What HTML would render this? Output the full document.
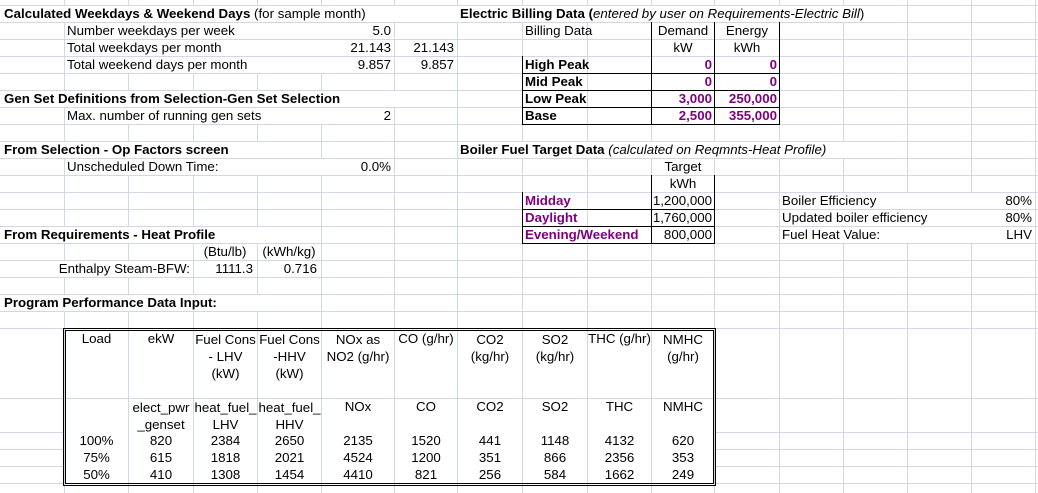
<!DOCTYPE html>
<html><head><meta charset="utf-8">
<style>
html,body{margin:0;padding:0;background:#fff;}
#w{position:relative;width:1038px;height:493px;overflow:hidden;font-family:"Liberation Sans",Arial,sans-serif;font-size:13.3px;color:#000;}
svg{position:absolute;left:0;top:0;}
.t{position:absolute;height:16px;line-height:16px;white-space:nowrap;}
.b{font-weight:bold;}
.p{color:#800080;font-weight:bold;}
.r{text-align:right;}
.c{text-align:center;}
.bg{background:#fff;}
</style></head><body><div id="w">
<svg width="1038" height="493">
<g fill="#d0d7e5">
<rect x="64" y="0" width="1" height="493"/>
<rect x="128" y="0" width="1" height="493"/>
<rect x="193" y="0" width="1" height="493"/>
<rect x="257" y="0" width="1" height="493"/>
<rect x="321" y="0" width="1" height="493"/>
<rect x="394" y="0" width="1" height="493"/>
<rect x="457" y="0" width="1" height="493"/>
<rect x="522" y="0" width="1" height="493"/>
<rect x="587" y="0" width="1" height="493"/>
<rect x="651" y="0" width="1" height="493"/>
<rect x="714" y="0" width="1" height="493"/>
<rect x="779" y="0" width="1" height="493"/>
<rect x="843" y="0" width="1" height="493"/>
<rect x="907" y="0" width="1" height="493"/>
<rect x="971" y="0" width="1" height="493"/>
<rect x="1035" y="0" width="1" height="493"/>
<rect x="0" y="5" width="1038" height="1"/>
<rect x="0" y="22" width="1038" height="1"/>
<rect x="0" y="39" width="1038" height="1"/>
<rect x="0" y="56" width="1038" height="1"/>
<rect x="0" y="73" width="1038" height="1"/>
<rect x="0" y="90" width="1038" height="1"/>
<rect x="0" y="107" width="1038" height="1"/>
<rect x="0" y="124" width="1038" height="1"/>
<rect x="0" y="141" width="1038" height="1"/>
<rect x="0" y="158" width="1038" height="1"/>
<rect x="0" y="175" width="1038" height="1"/>
<rect x="0" y="192" width="1038" height="1"/>
<rect x="0" y="209" width="1038" height="1"/>
<rect x="0" y="226" width="1038" height="1"/>
<rect x="0" y="243" width="1038" height="1"/>
<rect x="0" y="260" width="1038" height="1"/>
<rect x="0" y="277" width="1038" height="1"/>
<rect x="0" y="294" width="1038" height="1"/>
<rect x="0" y="311" width="1038" height="1"/>
<rect x="0" y="328" width="1038" height="1"/>
<rect x="0" y="398" width="1038" height="1"/>
<rect x="0" y="432" width="1038" height="1"/>
<rect x="0" y="449" width="1038" height="1"/>
<rect x="0" y="466" width="1038" height="1"/>
<rect x="0" y="483" width="1038" height="1"/>
</g>
<g fill="#fff">
<rect x="65" y="430" width="649" height="53"/>
</g>
<g fill="#d0d7e5">
<rect x="128" y="430" width="1" height="53"/>
<rect x="193" y="430" width="1" height="53"/>
<rect x="257" y="430" width="1" height="53"/>
<rect x="321" y="430" width="1" height="53"/>
<rect x="394" y="430" width="1" height="53"/>
<rect x="457" y="430" width="1" height="53"/>
<rect x="522" y="430" width="1" height="53"/>
<rect x="587" y="430" width="1" height="53"/>
<rect x="651" y="430" width="1" height="53"/>
</g>
<rect x="63.5" y="328.5" width="652" height="157" fill="none" stroke="#000" stroke-width="1"/>
<rect x="65.5" y="330.5" width="648" height="153" fill="none" stroke="#000" stroke-width="1"/>
<g fill="#000">
<rect x="651" y="22" width="1" height="103"/>
<rect x="714" y="22" width="1" height="103"/>
<rect x="779" y="22" width="1" height="103"/>
<rect x="522" y="56" width="1" height="69"/>
<rect x="522" y="73" width="258" height="1"/>
<rect x="522" y="90" width="258" height="1"/>
<rect x="522" y="107" width="258" height="1"/>
<rect x="522" y="124" width="258" height="1"/>
<rect x="651" y="175" width="1" height="69"/>
<rect x="714" y="175" width="1" height="69"/>
<rect x="522" y="192" width="1" height="52"/>
<rect x="522" y="209" width="193" height="1"/>
<rect x="522" y="226" width="193" height="1"/>
<rect x="522" y="243" width="193" height="1"/>
</g>
</svg>

<div class="t bg" style="left:1px;top:6px;width:455px;padding-left:3px;"><span class="b">Calculated Weekdays &amp; Weekend Days</span> (for sample month)</div>
<div class="t bg" style="left:65px;top:23px;width:255px;padding-left:2px;">Number weekdays per week</div>
<div class="t r" style="left:322px;top:23px;width:69px;">5.0</div>
<div class="t bg" style="left:65px;top:40px;width:255px;padding-left:2px;">Total weekdays per month</div>
<div class="t r" style="left:322px;top:40px;width:69px;">21.143</div>
<div class="t r" style="left:395px;top:40px;width:59px;">21.143</div>
<div class="t bg" style="left:65px;top:57px;width:255px;padding-left:2px;">Total weekend days per month</div>
<div class="t r" style="left:322px;top:57px;width:69px;">9.857</div>
<div class="t r" style="left:395px;top:57px;width:59px;">9.857</div>
<div class="t b bg" style="left:1px;top:91px;width:392px;padding-left:3px;">Gen Set Definitions from Selection-Gen Set Selection</div>
<div class="t bg" style="left:65px;top:108px;width:255px;padding-left:2px;">Max. number of running gen sets</div>
<div class="t r" style="left:322px;top:108px;width:69px;">2</div>
<div class="t b bg" style="left:1px;top:142px;width:255px;padding-left:3px;">From Selection - Op Factors screen</div>
<div class="t bg" style="left:65px;top:159px;width:255px;padding-left:2px;">Unscheduled Down Time:</div>
<div class="t r" style="left:322px;top:159px;width:69px;">0.0%</div>
<div class="t b bg" style="left:1px;top:227px;width:255px;padding-left:3px;">From Requirements - Heat Profile</div>
<div class="t c" style="left:193px;top:244px;width:64px;">(Btu/lb)</div>
<div class="t c" style="left:257px;top:244px;width:64px;">(kWh/kg)</div>
<div class="t r bg" style="left:1px;top:261px;width:189px;">Enthalpy Steam-BFW:</div>
<div class="t r" style="left:194px;top:261px;width:59px;">1111.3</div>
<div class="t r" style="left:258px;top:261px;width:59px;">0.716</div>
<div class="t b bg" style="left:1px;top:295px;width:255px;padding-left:3px;">Program Performance Data Input:</div>

<div class="t bg" style="left:458px;top:6px;width:400px;padding-left:2px;"><span class="b">Electric Billing Data (</span><i>entered by user on Requirements-Electric Bill</i>)</div>
<div class="t" style="left:525px;top:23px;">Billing Data</div>
<div class="t c" style="left:652px;top:23px;width:62px;">Demand</div>
<div class="t c" style="left:715px;top:23px;width:64px;">Energy</div>
<div class="t c" style="left:652px;top:40px;width:62px;">kW</div>
<div class="t c" style="left:715px;top:40px;width:64px;">kWh</div>
<div class="t b" style="left:525px;top:57px;">High Peak</div>
<div class="t p r" style="left:652px;top:57px;width:60px;">0</div>
<div class="t p r" style="left:715px;top:57px;width:62px;">0</div>
<div class="t b" style="left:525px;top:74px;">Mid Peak</div>
<div class="t p r" style="left:652px;top:74px;width:60px;">0</div>
<div class="t p r" style="left:715px;top:74px;width:62px;">0</div>
<div class="t b" style="left:525px;top:91px;">Low Peak</div>
<div class="t p r" style="left:652px;top:91px;width:60px;">3,000</div>
<div class="t p r" style="left:715px;top:91px;width:62px;">250,000</div>
<div class="t b" style="left:525px;top:108px;">Base</div>
<div class="t p r" style="left:652px;top:108px;width:60px;">2,500</div>
<div class="t p r" style="left:715px;top:108px;width:62px;">355,000</div>

<div class="t bg" style="left:458px;top:142px;width:384px;padding-left:2px;"><span class="b">Boiler Fuel Target Data </span><i>(calculated on Reqmnts-Heat Profile)</i></div>
<div class="t c" style="left:652px;top:159px;width:62px;">Target</div>
<div class="t c" style="left:652px;top:176px;width:62px;">kWh</div>
<div class="t p" style="left:525px;top:193px;">Midday</div>
<div class="t r" style="left:652px;top:193px;width:60px;">1,200,000</div>
<div class="t p" style="left:525px;top:210px;">Daylight</div>
<div class="t r" style="left:652px;top:210px;width:60px;">1,760,000</div>
<div class="t p" style="left:525px;top:227px;">Evening/Weekend</div>
<div class="t r" style="left:652px;top:227px;width:60px;">800,000</div>
<div class="t bg" style="left:780px;top:193px;width:190px;padding-left:2px;">Boiler Efficiency</div>
<div class="t r" style="left:972px;top:193px;width:60px;">80%</div>
<div class="t bg" style="left:780px;top:210px;width:190px;padding-left:2px;">Updated boiler efficiency</div>
<div class="t r" style="left:972px;top:210px;width:60px;">80%</div>
<div class="t bg" style="left:780px;top:227px;width:190px;padding-left:2px;">Fuel Heat Value:</div>
<div class="t r" style="left:972px;top:227px;width:60px;">LHV</div>

<div class="t c" style="left:65px;top:331px;width:63px;">Load</div>
<div class="t c" style="left:129px;top:331px;width:64px;">ekW</div>
<div class="t c" style="left:194px;top:331px;width:63px;line-height:17px;height:51px;">Fuel Cons<br>- LHV<br>(kW)</div>
<div class="t c" style="left:258px;top:331px;width:63px;line-height:17px;height:51px;">Fuel Cons<br>-HHV<br>(kW)</div>
<div class="t c" style="left:322px;top:331px;width:72px;line-height:17px;height:34px;">NOx as<br>NO2 (g/hr)</div>
<div class="t c" style="left:395px;top:331px;width:62px;">CO (g/hr)</div>
<div class="t c" style="left:458px;top:331px;width:64px;line-height:17px;height:34px;">CO2<br>(kg/hr)</div>
<div class="t c" style="left:523px;top:331px;width:64px;line-height:17px;height:34px;">SO2<br>(kg/hr)</div>
<div class="t c" style="left:588px;top:331px;width:63px;">THC (g/hr)</div>
<div class="t c" style="left:652px;top:331px;width:62px;line-height:17px;height:34px;">NMHC<br>(g/hr)</div>

<div class="t c" style="left:129px;top:399px;width:64px;line-height:17px;height:34px;">elect_pwr<br>_genset</div>
<div class="t c" style="left:194px;top:399px;width:63px;line-height:17px;height:34px;">heat_fuel_<br>LHV</div>
<div class="t c" style="left:258px;top:399px;width:63px;line-height:17px;height:34px;">heat_fuel_<br>HHV</div>
<div class="t c" style="left:322px;top:399px;width:72px;">NOx</div>
<div class="t c" style="left:395px;top:399px;width:62px;">CO</div>
<div class="t c" style="left:458px;top:399px;width:64px;">CO2</div>
<div class="t c" style="left:523px;top:399px;width:64px;">SO2</div>
<div class="t c" style="left:588px;top:399px;width:63px;">THC</div>
<div class="t c" style="left:652px;top:399px;width:62px;">NMHC</div>

<div class="t c" style="left:65px;top:433px;width:63px;">100%</div>
<div class="t c" style="left:129px;top:433px;width:64px;">820</div>
<div class="t c" style="left:194px;top:433px;width:63px;">2384</div>
<div class="t c" style="left:258px;top:433px;width:63px;">2650</div>
<div class="t c" style="left:322px;top:433px;width:72px;">2135</div>
<div class="t c" style="left:395px;top:433px;width:62px;">1520</div>
<div class="t c" style="left:458px;top:433px;width:64px;">441</div>
<div class="t c" style="left:523px;top:433px;width:64px;">1148</div>
<div class="t c" style="left:588px;top:433px;width:63px;">4132</div>
<div class="t c" style="left:652px;top:433px;width:62px;">620</div>

<div class="t c" style="left:65px;top:450px;width:63px;">75%</div>
<div class="t c" style="left:129px;top:450px;width:64px;">615</div>
<div class="t c" style="left:194px;top:450px;width:63px;">1818</div>
<div class="t c" style="left:258px;top:450px;width:63px;">2021</div>
<div class="t c" style="left:322px;top:450px;width:72px;">4524</div>
<div class="t c" style="left:395px;top:450px;width:62px;">1200</div>
<div class="t c" style="left:458px;top:450px;width:64px;">351</div>
<div class="t c" style="left:523px;top:450px;width:64px;">866</div>
<div class="t c" style="left:588px;top:450px;width:63px;">2356</div>
<div class="t c" style="left:652px;top:450px;width:62px;">353</div>

<div class="t c" style="left:65px;top:467px;width:63px;">50%</div>
<div class="t c" style="left:129px;top:467px;width:64px;">410</div>
<div class="t c" style="left:194px;top:467px;width:63px;">1308</div>
<div class="t c" style="left:258px;top:467px;width:63px;">1454</div>
<div class="t c" style="left:322px;top:467px;width:72px;">4410</div>
<div class="t c" style="left:395px;top:467px;width:62px;">821</div>
<div class="t c" style="left:458px;top:467px;width:64px;">256</div>
<div class="t c" style="left:523px;top:467px;width:64px;">584</div>
<div class="t c" style="left:588px;top:467px;width:63px;">1662</div>
<div class="t c" style="left:652px;top:467px;width:62px;">249</div>
</div></body></html>
